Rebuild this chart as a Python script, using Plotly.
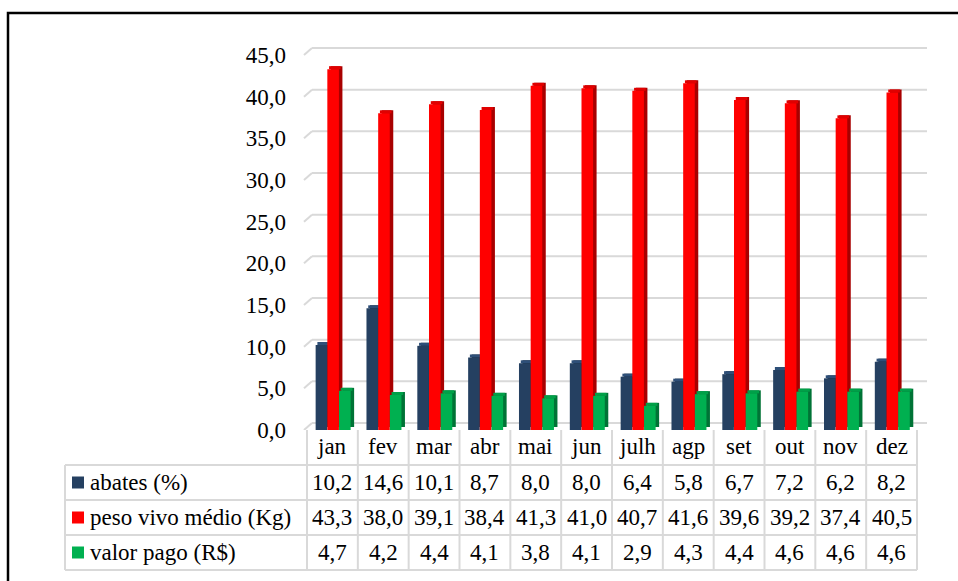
import plotly.graph_objects as go

# Monthly data
months = ["jan", "fev", "mar", "abr", "mai", "jun", "julh", "agp", "set", "out", "nov", "dez"]
abates = [10.2, 14.6, 10.1, 8.7, 8.0, 8.0, 6.4, 5.8, 6.7, 7.2, 6.2, 8.2]
peso_vivo = [43.3, 38.0, 39.1, 38.4, 41.3, 41.0, 40.7, 41.6, 39.6, 39.2, 37.4, 40.5]
valor_pago = [4.7, 4.2, 4.4, 4.1, 3.8, 4.1, 2.9, 4.3, 4.4, 4.6, 4.6, 4.6]
series_names = ["abates (%)", "peso vivo médio (Kg)", "valor pago (R$)"]
y_ticks = [0, 5, 10, 15, 20, 25, 30, 35, 40, 45]

series = [abates, peso_vivo, valor_pago]
# (front, top, side) colours for the pseudo-3D columns
palette = [
    ("#254061", "#2e4f78", "#17283e"),
    ("#ff0000", "#e00000", "#a80000"),
    ("#00b050", "#00a048", "#007336"),
]
offsets = [-0.33, -0.10, 0.13]
bar_w = 0.228

FONT = "Liberation Serif, Tinos, DejaVu Serif, Noto Serif, serif"
FS = 23
W, H = 958, 581
L, R = 307, 917          # plot area, pixels
T, B = 45, 430
Y_MAX = 46.2
unit_px = (B - T) / Y_MAX
depth_dy = 7 / unit_px   # back-wall shift, y units
side_dx = 3.5 / ((R - L) / len(months))
top_h = 3 / unit_px


def px_x(px):
    return (px - L) / (R - L)


def px_y(py):
    return (B - py) / (B - T)


fig = go.Figure()

for vals, (c_front, c_top, c_side), off in zip(series, palette, offsets):
    # side face (shifted right/up), top face, then front face
    fig.add_trace(go.Bar(x=months, y=vals, base=[top_h] * len(vals), width=bar_w,
                         offset=off + side_dx, marker=dict(color=c_side, line_width=0),
                         showlegend=False, hoverinfo="skip"))
    fig.add_trace(go.Bar(x=months, y=[top_h] * len(vals), base=vals, width=bar_w,
                         offset=off + side_dx / 2, marker=dict(color=c_top, line_width=0),
                         showlegend=False, hoverinfo="skip"))
    fig.add_trace(go.Bar(x=months, y=vals, width=bar_w, offset=off,
                         marker=dict(color=c_front, line_width=0),
                         showlegend=False))

shapes = []
grid = dict(color="#d9d9d9", width=2)
# back wall gridlines with the left-wall stubs
for v in y_ticks:
    shapes.append(dict(type="line", xref="paper", yref="y", x0=px_x(312), x1=px_x(927),
                       y0=v + depth_dy, y1=v + depth_dy, line=grid, layer="below"))
    shapes.append(dict(type="line", xref="paper", yref="y", x0=px_x(304), x1=px_x(312),
                       y0=v, y1=v + depth_dy, line=grid, layer="below"))

# data table grid
col_w = (R - L) / len(months)
row_edges = [465, 500, 535, 570]
for py in row_edges:
    shapes.append(dict(type="line", xref="paper", yref="paper", x0=px_x(65), x1=px_x(R),
                       y0=px_y(py), y1=px_y(py), line=grid))
for k in range(len(months) + 1):
    xx = px_x(L + k * col_w)
    shapes.append(dict(type="line", xref="paper", yref="paper", x0=xx, x1=xx,
                       y0=px_y(430), y1=px_y(570), line=grid))
shapes.append(dict(type="line", xref="paper", yref="paper", x0=px_x(65), x1=px_x(65),
                   y0=px_y(465), y1=px_y(570), line=grid))

# outer frame
shapes.append(dict(type="rect", xref="paper", yref="paper", x0=px_x(8), x1=px_x(1100),
                   y0=px_y(13), y1=px_y(700), line=dict(color="black", width=2.5)))

annotations = []
text_font = dict(family=FONT, size=FS, color="black")
for m in months:
    annotations.append(dict(x=m, xref="x", y=px_y(447), yref="paper", text=m,
                            showarrow=False, font=text_font, xanchor="center", yanchor="middle"))

row_centers = [482.5, 517.5, 552.5]
for name, vals, (c_front, _, _), yc in zip(series_names, series, palette, row_centers):
    shapes.append(dict(type="rect", xref="paper", yref="paper", x0=px_x(72), x1=px_x(84),
                       y0=px_y(yc - 6), y1=px_y(yc + 6), fillcolor=c_front, line_width=0))
    annotations.append(dict(x=px_x(88), xref="paper", y=px_y(yc), yref="paper", text=name,
                            showarrow=False, font=text_font, xanchor="left", yanchor="middle"))
    for m, v in zip(months, vals):
        annotations.append(dict(x=m, xref="x", y=px_y(yc), yref="paper",
                                text=f"{v:.1f}".replace(".", ","), showarrow=False,
                                font=text_font, xanchor="center", yanchor="middle"))

fig.update_layout(
    width=W, height=H,
    margin=dict(l=L, r=W - R, t=T, b=H - B, pad=0),
    paper_bgcolor="white", plot_bgcolor="white",
    barmode="overlay", separators=",.",
    font=dict(family=FONT, size=FS, color="black"),
    xaxis=dict(type="category", range=[-0.5, len(months) - 0.5], showticklabels=False,
               showgrid=False, zeroline=False, showline=False, ticks=""),
    yaxis=dict(range=[0, Y_MAX], tickvals=y_ticks, tickformat=".1f", showgrid=False,
               zeroline=False, showline=False, ticks="", ticklabelstandoff=20,
               tickfont=dict(family=FONT, size=FS, color="black")),
    shapes=shapes, annotations=annotations, showlegend=False,
)

fig.write_html("out.html")
